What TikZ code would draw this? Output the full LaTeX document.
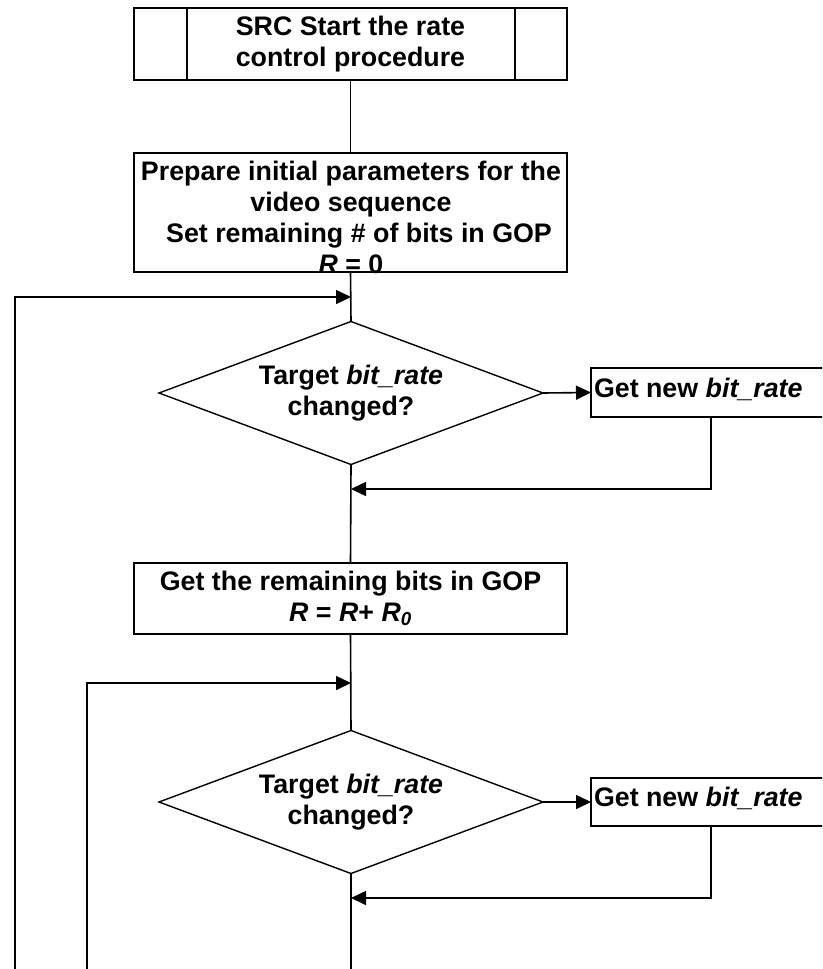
\documentclass[tikz,border=0pt]{standalone}
\usepackage{fontspec}
\setmainfont{Liberation Sans}
\usetikzlibrary{shapes.geometric,arrows.meta,calc}
\begin{document}
\begin{tikzpicture}[x=1pt,y=-1pt,
  every node/.style={font=\fontsize{26.8}{31}\selectfont\bfseries},
  box/.style={draw, line width=1.6pt, rectangle, inner sep=0pt, outer sep=0pt, align=center},
  dec/.style={draw, diamond, line width=1.4pt, inner sep=0pt, outer sep=0pt,
    minimum width=384pt, minimum height=143pt, aspect=2.69, align=center},
  txt/.style={inner sep=0pt, outer sep=0pt, align=center},
  conn/.style={line width=1.6pt},
  arr/.style={conn, -{Triangle[length=15pt,width=14pt]}},
]
\clip (0,0) rectangle (822,969);
\fill[white] (0,0) rectangle (822,969);

% start box
\node[box, minimum width=433pt, minimum height=72pt] (start) at (350.5,44) {SRC Start the rate\\control procedure};
\draw[conn] ($(start.north west)+(53,0)$) -- ($(start.south west)+(53,0)$);
\draw[conn] ($(start.north east)+(-52,0)$) -- ($(start.south east)+(-52,0)$);

% init box
\node[box, minimum width=433pt, minimum height=119pt] (init) at (350.5,212.5) {};
\node[txt] (initt) at (351,217.5) {Prepare initial parameters for the\\video sequence\\\hspace*{16pt}Set remaining \# of bits in GOP\\\textit{R} = 0};

\draw[conn] (start.south) -- (init.north);

% first decision
\node[dec] (d1) at (351,393) {Target \textit{bit\_rate}\\changed?};
\node[box, minimum width=240pt, minimum height=49pt, anchor=west] (g1) at (591,392.5) {};
\node[txt, anchor=base west] (g1t) at (594,397) {Get new \textit{bit\_rate}};

\coordinate (j1) at (351,297);
\coordinate (l1a) at (15,297);
\coordinate (l1b) at (15,975);
\coordinate (r1) at (351,489);

\draw[conn] (init.south) -- (d1.north);
\draw[arr] (l1b) -- (l1a) -- (j1);
\draw[arr] (d1.east) -- (g1.west);
\draw[arr] ($(g1.south west)+(120,0)$) |- (r1);

% remaining bits box
\node[box, minimum width=433pt, minimum height=71pt] (rem) at (350.5,598.5) {Get the remaining bits in GOP\\\textit{R} = \textit{R}+ \textit{R}\textsubscript{\textit{0}}};
\draw[conn] (d1.south) -- (rem.north);

% second decision
\node[dec] (d2) at (351,802) {Target \textit{bit\_rate}\\changed?};
\node[box, minimum width=240pt, minimum height=48pt, anchor=west] (g2) at (591,802) {};
\node[txt, anchor=base west] (g2t) at (594,806.5) {Get new \textit{bit\_rate}};

\coordinate (j2) at (351,683);
\coordinate (l2a) at (87,683);
\coordinate (l2b) at (87,975);
\coordinate (r2) at (351,898);
\coordinate (endc) at (351,975);

\draw[conn] (rem.south) -- (d2.north);
\draw[arr] (l2b) -- (l2a) -- (j2);
\draw[arr] (d2.east) -- (g2.west);
\draw[arr] ($(g2.south west)+(120,0)$) |- (r2);
\draw[conn] (d2.south) -- (endc);
\end{tikzpicture}
\end{document}
